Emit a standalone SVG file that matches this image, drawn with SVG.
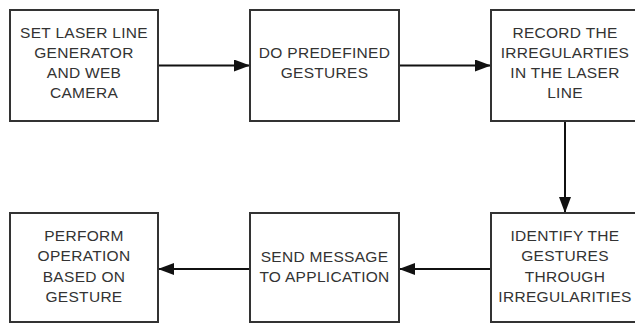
<svg xmlns="http://www.w3.org/2000/svg" width="635" height="324" viewBox="0 0 635 324">
<defs>
<marker id="ah" markerWidth="16" markerHeight="12" refX="16" refY="6" orient="auto" markerUnits="userSpaceOnUse">
<path d="M0,0 L16,6 L0,12 z" fill="#111"/>
</marker>
<style>
.box{fill:#fff;stroke:#333;stroke-width:2}
.t{font-family:"Liberation Sans",Arial,sans-serif;font-size:15.5px;letter-spacing:0.3px;fill:#333;text-anchor:middle}
.c{stroke:#111;stroke-width:2;fill:none;marker-end:url(#ah)}
</style>
</defs>
<rect width="635" height="324" fill="#fff"/>
<g id="connectors">
<line class="c" x1="158" y1="65.5" x2="250" y2="65.5"/>
<line class="c" x1="399" y1="65.5" x2="491" y2="65.5"/>
<line class="c" x1="565" y1="121" x2="565" y2="213"/>
<line class="c" x1="491" y1="269" x2="399" y2="269"/>
<line class="c" x1="250" y1="269" x2="158" y2="269"/>
</g>
<g id="n1"><rect class="box" x="10" y="10" width="148" height="111"/>
<text class="t" x="84" y="38">SET LASER LINE</text>
<text class="t" x="84" y="58">GENERATOR</text>
<text class="t" x="84" y="78">AND WEB</text>
<text class="t" x="84" y="98">CAMERA</text></g>
<g id="n2"><rect class="box" x="250" y="10" width="149" height="111"/>
<text class="t" x="324.5" y="58">DO PREDEFINED</text>
<text class="t" x="324.5" y="78">GESTURES</text></g>
<g id="n3"><rect class="box" x="491" y="10" width="148" height="111"/>
<text class="t" x="565" y="38">RECORD THE</text>
<text class="t" x="565" y="58">IRREGULARTIES</text>
<text class="t" x="565" y="78">IN THE LASER</text>
<text class="t" x="565" y="98">LINE</text></g>
<g id="n6"><rect class="box" x="491" y="213" width="148" height="109"/>
<text class="t" x="565" y="241">IDENTIFY THE</text>
<text class="t" x="565" y="261">GESTURES</text>
<text class="t" x="565" y="282">THROUGH</text>
<text class="t" x="565" y="302">IRREGULARITIES</text></g>
<g id="n5"><rect class="box" x="250" y="213" width="149" height="109"/>
<text class="t" x="324.5" y="262">SEND MESSAGE</text>
<text class="t" x="324.5" y="282">TO APPLICATION</text></g>
<g id="n4"><rect class="box" x="10" y="213" width="148" height="109"/>
<text class="t" x="84" y="241">PERFORM</text>
<text class="t" x="84" y="261">OPERATION</text>
<text class="t" x="84" y="282">BASED ON</text>
<text class="t" x="84" y="302">GESTURE</text></g>
</svg>
